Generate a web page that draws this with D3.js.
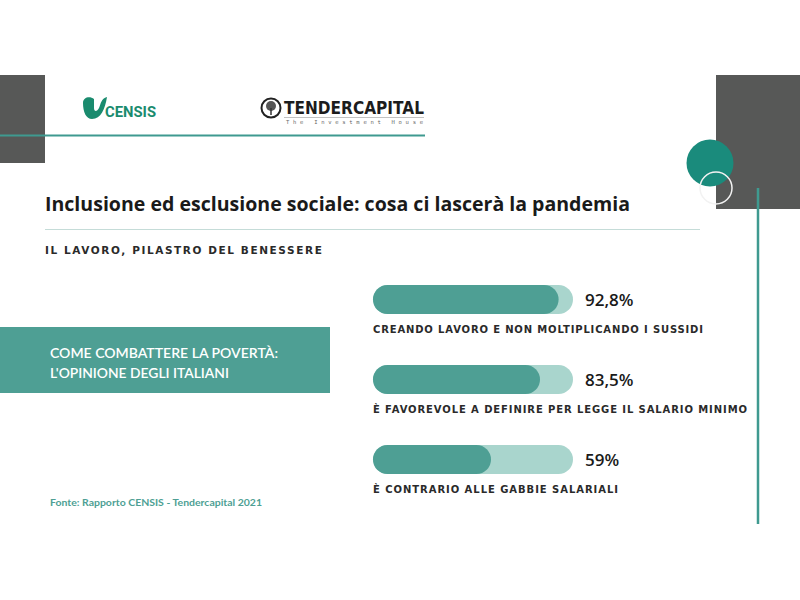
<!DOCTYPE html>
<html>
<head>
<meta charset="utf-8">
<script src="https://cdn.jsdelivr.net/npm/d3@7"></script>
<style>
  html, body { margin: 0; padding: 0; background: #fff; }
  svg { display: block; }
</style>
</head>
<body>
<svg id="chart" width="800" height="600"></svg>
<script>
const title = "Inclusione ed esclusione sociale: cosa ci lascerà la pandemia";
const subtitle = "IL LAVORO, PILASTRO DEL BENESSERE";
const boxLines = ["COME COMBATTERE LA POVERTÀ:", "L'OPINIONE DEGLI ITALIANI"];
const categories = [
  "CREANDO LAVORO E NON MOLTIPLICANDO I SUSSIDI",
  "È FAVOREVOLE A DEFINIRE PER LEGGE IL SALARIO MINIMO",
  "È CONTRARIO ALLE GABBIE SALARIALI"
];
const values = [92.8, 83.5, 59];
const valueLabels = ["92,8%", "83,5%", "59%"];
const source = "Fonte: Rapporto CENSIS - Tendercapital  2021";

const svg = d3.select("#chart");
const teal = "#4e9f94";
const trackCol = "#a9d5cd";
const gray = "#575857";

// decorative blocks
svg.append("rect").attr("x", 0).attr("y", 75).attr("width", 45).attr("height", 88).attr("fill", gray);
svg.append("rect").attr("x", 716).attr("y", 75).attr("width", 84).attr("height", 134).attr("fill", gray);
svg.append("line").attr("x1", 0).attr("x2", 425).attr("y1", 135.5).attr("y2", 135.5)
  .attr("stroke", "#3f9a90").attr("stroke-width", 2);
svg.append("circle").attr("cx", 710).attr("cy", 163).attr("r", 23.5).attr("fill", "#1a8b7c");
svg.append("circle").attr("cx", 716).attr("cy", 188).attr("r", 16).attr("fill", "none")
  .attr("stroke", "#f2f2f2").attr("stroke-width", 1.5);
svg.append("line").attr("x1", 758).attr("x2", 758).attr("y1", 188).attr("y2", 524)
  .attr("stroke", "#3f9a90").attr("stroke-width", 2.5);

// CENSIS logo
const lg = svg.append("g");
lg.append("path")
  .attr("d", "M83,103 C83,97 90,96 94,99 L94,108 C94,112 97,112 99,108 C101,103 101,99 107,97 C105,109 101,119 92,119 C86,119 83,112 83,103 Z")
  .attr("fill", "#1a8b6e");
lg.append("text").attr("x", 105).attr("y", 117).text("CENSIS")
  .attr("font-family", "'Liberation Sans Narrow', 'Roboto', sans-serif").attr("font-weight", 700)
  .attr("font-size", 15).attr("fill", "#1a8b6e").attr("textLength", 51).attr("lengthAdjust", "spacingAndGlyphs");

// TENDERCAPITAL logo
const tg = svg.append("g");
tg.append("circle").attr("cx", 271).attr("cy", 108).attr("r", 9.5).attr("fill", "none").attr("stroke", "#222").attr("stroke-width", 2);
tg.append("circle").attr("cx", 271).attr("cy", 106).attr("r", 5).attr("fill", "#555");
tg.append("line").attr("x1", 271).attr("x2", 271).attr("y1", 108).attr("y2", 115).attr("stroke", "#333").attr("stroke-width", 1.5);
tg.append("text").attr("x", 284).attr("y", 114).text("TENDERCAPITAL")
  .attr("font-family", "'DejaVu Sans', sans-serif").attr("font-weight", 700)
  .attr("font-size", 18.5).attr("fill", "#1c1c1c").attr("textLength", 140).attr("lengthAdjust", "spacingAndGlyphs");
tg.append("line").attr("x1", 284).attr("x2", 424).attr("y1", 117.5).attr("y2", 117.5).attr("stroke", "#999").attr("stroke-width", 0.6);
tg.append("text").attr("x", 286).attr("y", 124).text("The Investment House")
  .attr("font-family", "'DejaVu Sans Mono', monospace").attr("font-size", 5.5).attr("fill", "#666")
  .attr("textLength", 137).attr("lengthAdjust", "spacing");

// title
svg.append("text").attr("x", 45).attr("y", 211).text(title)
  .attr("font-family", "'Open Sans', sans-serif").attr("font-weight", 700)
  .attr("font-size", 19).attr("fill", "#1a1a1a").attr("textLength", 585).attr("lengthAdjust", "spacingAndGlyphs");
svg.append("line").attr("x1", 45).attr("x2", 700).attr("y1", 229.5).attr("y2", 229.5)
  .attr("stroke", "#c5dcd8").attr("stroke-width", 1);
svg.append("text").attr("x", 45).attr("y", 254).text(subtitle)
  .attr("font-family", "'DejaVu Sans', sans-serif").attr("font-weight", 700)
  .attr("font-size", 10.5).attr("fill", "#2a2a2a").attr("letter-spacing", 1.2)
  .attr("textLength", 278).attr("lengthAdjust", "spacing");

// teal box
svg.append("rect").attr("x", 0).attr("y", 327).attr("width", 330).attr("height", 66).attr("fill", teal);
const boxWidths = [228, 179];
svg.selectAll("text.box").data(boxLines).join("text").attr("class", "box")
  .attr("x", 50).attr("y", (d, i) => 358 + i * 20).text(d => d)
  .attr("font-family", "Lato, sans-serif").attr("font-weight", 600).attr("font-size", 14).attr("fill", "#ffffff")
  .attr("textLength", (d, i) => boxWidths[i]).attr("lengthAdjust", "spacingAndGlyphs");

// bars
const x = d3.scaleLinear().domain([0, 100]).range([373, 573]);
const y = d3.scaleBand().domain(categories).range([285, 525]).paddingInner(0).paddingOuter(0);
const bh = 29;

const g = svg.append("g");
const rows = g.selectAll("g.row").data(categories).join("g").attr("class", "row");
rows.append("rect")
  .attr("x", x(0)).attr("y", d => y(d)).attr("width", x(100) - x(0)).attr("height", bh)
  .attr("rx", bh / 2).attr("fill", trackCol);
rows.append("rect")
  .attr("x", x(0)).attr("y", d => y(d)).attr("width", (d, i) => x(values[i]) - x(0)).attr("height", bh)
  .attr("rx", bh / 2).attr("fill", teal);
rows.append("text")
  .attr("x", 585).attr("y", d => y(d) + bh / 2 + 6).text((d, i) => valueLabels[i])
  .attr("font-family", "'Open Sans', sans-serif").attr("font-weight", 600).attr("font-size", 17).attr("fill", "#1a1a1a");
const labelWidths = [330, 374, 245];
rows.append("text")
  .attr("x", 373).attr("y", d => y(d) + 48).text(d => d)
  .attr("font-family", "'DejaVu Sans', sans-serif").attr("font-weight", 700)
  .attr("font-size", 10).attr("fill", "#2a2a2a")
  .attr("textLength", (d, i) => labelWidths[i]).attr("lengthAdjust", "spacing");

// source
svg.append("text").attr("x", 50).attr("y", 506).text(source)
  .attr("font-family", "Lato, sans-serif").attr("font-weight", 700).attr("font-size", 10).attr("fill", "#4e9f94")
  .attr("textLength", 212).attr("lengthAdjust", "spacingAndGlyphs");
</script>
</body>
</html>
